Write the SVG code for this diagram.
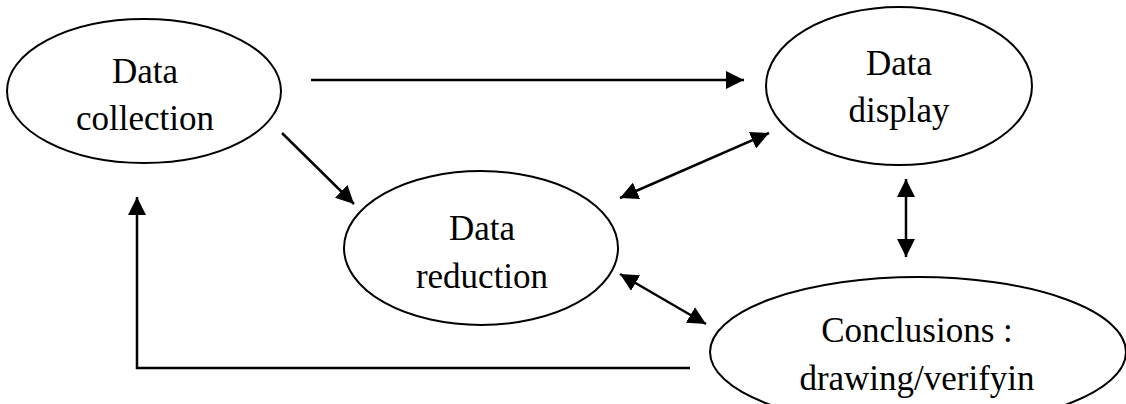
<svg xmlns="http://www.w3.org/2000/svg" width="1126" height="404" viewBox="0 0 1126 404">
<defs>
<marker id="ah" viewBox="0 0 18 18" markerWidth="18" markerHeight="18" refX="18" refY="9" orient="auto-start-reverse" markerUnits="userSpaceOnUse">
<path d="M0,0 L18,9 L0,18 z" fill="#000"/>
</marker>
<style>
.node ellipse{fill:#fff;stroke:#000;stroke-width:2}
.node text{font-family:"Liberation Serif","Times New Roman",serif;font-size:35px;fill:#000;text-anchor:middle}
.conn line,.conn polyline{stroke:#000;stroke-width:2.5;fill:none}
</style>
</defs>
<rect width="1126" height="404" fill="#fff"/>
<g id="data-collection" class="node">
<ellipse cx="144" cy="91" rx="137" ry="72"/>
<text x="145" y="83">Data</text>
<text x="145" y="130">collection</text>
</g>
<g id="data-display" class="node">
<ellipse cx="899" cy="86" rx="133" ry="79"/>
<text x="899" y="75">Data</text>
<text x="899" y="122">display</text>
</g>
<g id="data-reduction" class="node">
<ellipse cx="481" cy="248" rx="137" ry="77"/>
<text x="482" y="240">Data</text>
<text x="482" y="288">reduction</text>
</g>
<g id="conclusions" class="node">
<ellipse cx="918" cy="352" rx="208" ry="75"/>
<text x="917" y="342">Conclusions :</text>
<text x="917" y="390">drawing/verifyin</text>
</g>
<g id="connectors" class="conn">
<line x1="311" y1="80" x2="744" y2="80" marker-end="url(#ah)"/>
<line x1="282" y1="133" x2="354" y2="204" marker-end="url(#ah)"/>
<line x1="620" y1="198" x2="769" y2="133" marker-start="url(#ah)" marker-end="url(#ah)"/>
<line x1="620" y1="274" x2="706" y2="324" marker-start="url(#ah)" marker-end="url(#ah)"/>
<line x1="906" y1="179" x2="906" y2="257" marker-start="url(#ah)" marker-end="url(#ah)"/>
<polyline points="690,368 137,368 137,197" marker-end="url(#ah)"/>
</g>
</svg>
